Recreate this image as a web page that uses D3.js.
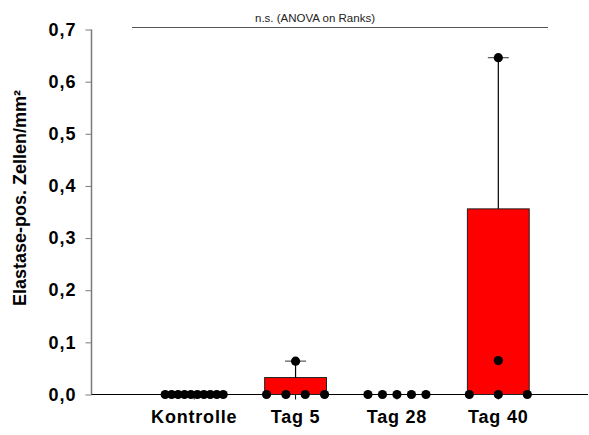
<!DOCTYPE html>
<html>
<head>
<meta charset="utf-8">
<script src="https://cdn.jsdelivr.net/npm/d3@7"></script>
<style>
  body { margin: 0; background: #fff; }
  svg { font-family: Arial, "Liberation Sans", sans-serif; }
</style>
</head>
<body>
<svg id="chart" width="589" height="435"></svg>
<script>
// data
var categories = ['Kontrolle', 'Tag 5', 'Tag 28', 'Tag 40'];
var barValues = [0, 0.0325, 0, 0.356];
var errTop = [0, 0.064, 0, 0.646];
var ptsKontrolle = [0, 0, 0, 0, 0, 0, 0, 0, 0, 0];
var ptsTag5 = [0, 0, 0, 0, 0.064];
var ptsTag28 = [0, 0, 0, 0, 0];
var ptsTag40 = [0, 0, 0, 0.065, 0.646];
var points = [ptsKontrolle, ptsTag5, ptsTag28, ptsTag40];
var yTicks = [0, 0.1, 0.2, 0.3, 0.4, 0.5, 0.6, 0.7];
var statText = 'n.s. (ANOVA on Ranks)';

var svg = d3.select('#chart');

var x = d3.scaleBand()
  .domain(categories)
  .range([143.5, 549])
  .paddingInner(0.39)
  .paddingOuter(0.195);

var y = d3.scaleLinear()
  .domain([0, 0.7])
  .range([394.5, 29.5]);

var fmt = function(d){ return d3.format('.1f')(d).replace('.', ','); };

// y axis
var yAxis = svg.append('g')
  .attr('transform', 'translate(91.5,0)')
  .call(d3.axisLeft(y).tickValues(yTicks).tickSize(6).tickPadding(9).tickFormat(fmt));
yAxis.select('.domain').attr('stroke', '#7a7a7a').attr('stroke-width', 1.5)
  .attr('d', 'M0,' + y(0.7) + 'V' + y(0));
yAxis.selectAll('.tick line').attr('stroke', '#7a7a7a');
yAxis.selectAll('.tick text')
  .attr('fill', '#000')
  .style('font-size', '18px')
  .style('font-weight', 'bold')
  .style('letter-spacing', '1px');

// x axis baseline
var xAxis = svg.append('g')
  .attr('transform', 'translate(0,' + y(0) + ')')
  .call(d3.axisBottom(x).tickSize(5).tickPadding(11));
xAxis.select('.domain').attr('stroke', '#000').attr('d', 'M91.5,0H588');
xAxis.selectAll('.tick line').attr('stroke', '#000');
xAxis.selectAll('.tick text')
  .attr('fill', '#000')
  .style('font-size', '18px')
  .style('font-weight', 'bold')
  .style('letter-spacing', '0.8px');

// bars
svg.append('g').selectAll('rect')
  .data(categories)
  .enter().append('rect')
  .attr('x', function(d){ return x(d); })
  .attr('width', x.bandwidth())
  .attr('y', function(d, i){ return y(barValues[i]); })
  .attr('height', function(d, i){ return y(0) - y(barValues[i]); })
  .attr('fill', '#ff0000')
  .attr('stroke', '#222')
  .attr('stroke-width', 1);

// error bars
var cx = function(d){ return x(d) + x.bandwidth() / 2; };
var err = svg.append('g');
categories.forEach(function(c, i){
  if (errTop[i] <= barValues[i]) return;
  err.append('line')
    .attr('x1', cx(c)).attr('x2', cx(c))
    .attr('y1', y(barValues[i])).attr('y2', y(errTop[i]))
    .attr('stroke', '#000').attr('stroke-width', 1.2);
  err.append('line')
    .attr('x1', cx(c) - 10.5).attr('x2', cx(c) + 10.5)
    .attr('y1', y(errTop[i])).attr('y2', y(errTop[i]))
    .attr('stroke', '#555').attr('stroke-width', 1.2);
});

// scatter points, spread sideways where values coincide
var dots = svg.append('g');
categories.forEach(function(c, i){
  var groups = d3.group(points[i], function(v){ return v; });
  groups.forEach(function(vals, v){
    var n = vals.length;
    var spread = n > 1 ? 58 : 0;
    vals.forEach(function(val, k){
      var off = n > 1 ? -spread / 2 + k * spread / (n - 1) : 0;
      dots.append('circle')
        .attr('cx', cx(c) + off)
        .attr('cy', y(val))
        .attr('r', 4.6)
        .attr('fill', '#000');
    });
  });
});

// y axis title
svg.append('text')
  .attr('transform', 'translate(26,198) rotate(-90)')
  .attr('text-anchor', 'middle')
  .style('font-size', '18px')
  .style('font-weight', 'bold')
  .text('Elastase-pos. Zellen/mm²');

// significance line
svg.append('line')
  .attr('x1', 132).attr('x2', 548)
  .attr('y1', 27.5).attr('y2', 27.5)
  .attr('stroke', '#555').attr('stroke-width', 1);
svg.append('text')
  .attr('x', 315).attr('y', 22)
  .attr('text-anchor', 'middle')
  .style('font-size', '11.5px')
  .attr('fill', '#222')
  .text(statText);
</script>
</body>
</html>
